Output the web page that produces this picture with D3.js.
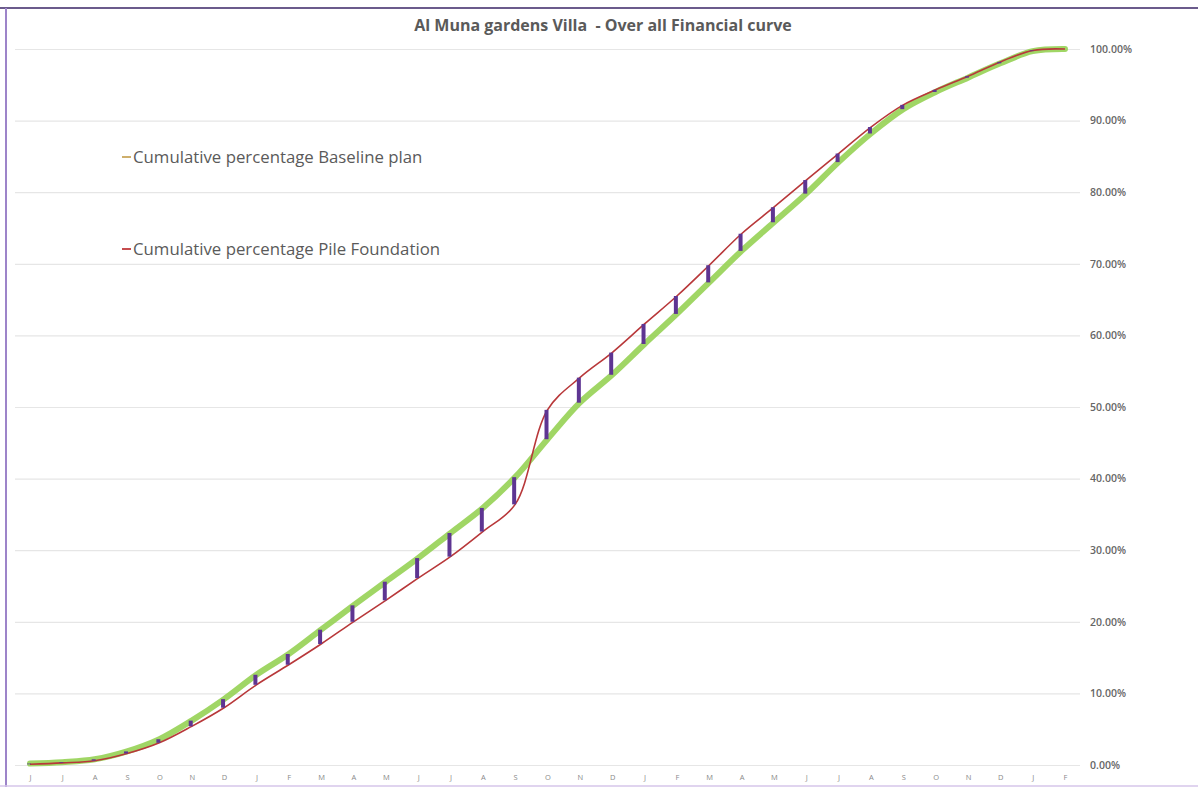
<!DOCTYPE html>
<html>
<head>
<meta charset="utf-8">
<script src="https://cdn.jsdelivr.net/npm/d3@7"></script>
<style>
  body { margin: 0; background: #fff; }
  svg { display: block; }
</style>
</head>
<body>
<div id="chart"></div>
<script>
// month initials along the bottom (Jun .. Feb, three years)
var months = ["J","J","A","S","O","N","D","J","F","M","A","M","J","J","A","S","O",
              "N","D","J","F","M","A","M","J","J","A","S","O","N","D","J","F"];

// cumulative % per month
var baseline = [0.2, 0.4, 0.8, 1.9, 3.6, 6.2, 9.2, 12.6, 15.5, 18.9, 22.3, 25.6, 28.9,
                32.4, 35.9, 40.2, 45.5, 50.6, 54.5, 58.8, 63.0, 67.4, 71.8, 75.8, 79.8,
                84.2, 88.2, 91.6, 94.0, 96.0, 98.0, 99.7, 100];
var pile = [0.1, 0.3, 0.6, 1.6, 3.1, 5.4, 8.0, 11.2, 14.0, 16.9, 20.0, 23.0, 26.1,
            29.1, 32.6, 36.4, 49.6, 54.1, 57.6, 61.6, 65.5, 69.8, 74.2, 77.9, 81.7,
            85.4, 89.1, 92.2, 94.3, 96.2, 98.2, 99.8, 100];

var yTicks = [0, 10, 20, 30, 40, 50, 60, 70, 80, 90, 100];

var width = 1198, height = 787;

var svg = d3.select("#chart").append("svg")
      .attr("width", width)
      .attr("height", height);

// frame
svg.append("line").attr("x1", 0).attr("x2", width).attr("y1", 8).attr("y2", 8)
  .attr("stroke", "#6b5b8c").attr("stroke-width", 2);
svg.append("line").attr("x1", 6).attr("x2", 6).attr("y1", 8).attr("y2", height)
  .attr("stroke", "#9d84c9").attr("stroke-width", 2);
svg.append("line").attr("x1", 0).attr("x2", width).attr("y1", 786).attr("y2", 786)
  .attr("stroke", "#d6c6ea").attr("stroke-width", 1.5);

var idx = d3.range(months.length);

var x = d3.scalePoint()
      .domain(idx)
      .range([30, 1065]);

var y = d3.scaleLinear()
      .domain([0, 100])
      .range([765, 49]);

// gridlines
var grid = svg.append("g")
      .attr("transform", "translate(1080,0)")
      .call(d3.axisLeft(y).tickValues(yTicks).tickSize(1065).tickFormat(""));
grid.select(".domain").remove();
grid.selectAll("line").attr("stroke", "#e6e6e6").attr("stroke-width", 1.2);

// right hand labels
var yAxis = svg.append("g")
      .attr("transform", "translate(1090,0)")
      .call(d3.axisRight(y).tickValues(yTicks).tickSize(0).tickPadding(0)
            .tickFormat(function(d) { return d3.format(".2f")(d) + "%"; }));
yAxis.select(".domain").remove();
yAxis.selectAll("text")
  .attr("fill", "#666")
  .style("font-family", "Open Sans, sans-serif")
  .style("font-size", "10.5px")
  .style("font-weight", "600");

// month labels
var xAxis = svg.append("g")
      .attr("transform", "translate(0,772)")
      .call(d3.axisBottom(x).tickSize(0).tickPadding(3)
            .tickFormat(function(i) { return months[i]; }));
xAxis.select(".domain").remove();
xAxis.selectAll("text")
  .attr("fill", "#8a8a8a")
  .style("font-family", "Open Sans, sans-serif")
  .style("font-size", "7.5px");

var line = d3.line()
      .x(function(d, i) { return x(i); })
      .y(function(d) { return y(d); })
      .curve(d3.curveCatmullRom.alpha(0.5));

// baseline - thick green
svg.append("path")
  .datum(baseline)
  .attr("fill", "none")
  .attr("stroke", "#96d154")
  .attr("stroke-width", 6)
  .attr("stroke-linecap", "round")
  .attr("opacity", 0.9)
  .attr("d", line);

// pile foundation - thin red
svg.append("path")
  .datum(pile)
  .attr("fill", "none")
  .attr("stroke", "#b8383a")
  .attr("stroke-width", 1.6)
  .attr("d", line);

// high-low bars between the two series
svg.selectAll(".hl")
  .data(idx)
  .enter()
  .append("line")
  .attr("class", "hl")
  .attr("x1", function(i) { return x(i) - 1; })
  .attr("x2", function(i) { return x(i) - 1; })
  .attr("y1", function(i) { return y(baseline[i]); })
  .attr("y2", function(i) { return y(pile[i]); })
  .attr("stroke", "#5e3592")
  .attr("stroke-width", 4);

// title
svg.append("text")
  .attr("x", 603)
  .attr("y", 31)
  .attr("text-anchor", "middle")
  .attr("fill", "#5a5a5a")
  .style("font-family", "Open Sans, sans-serif")
  .style("font-size", "16px")
  .style("font-weight", "700")
  .style("white-space", "pre")
  .text("Al Muna gardens Villa  - Over all Financial curve");

// legend
var legend = [
  {label: "Cumulative percentage Baseline plan", color: "#c9a65c", y: 157},
  {label: "Cumulative percentage Pile Foundation", color: "#c0393b", y: 249}
];
var lg = svg.selectAll(".legend")
      .data(legend)
      .enter()
      .append("g")
      .attr("class", "legend")
      .attr("transform", function(d) { return "translate(122," + d.y + ")"; });
lg.append("line")
  .attr("x1", 0).attr("x2", 9)
  .attr("stroke", function(d) { return d.color; })
  .attr("stroke-width", 1.8);
lg.append("text")
  .attr("x", 11)
  .attr("dy", "0.35em")
  .attr("fill", "#5a5a5a")
  .style("font-family", "Open Sans, sans-serif")
  .style("font-size", "16.8px")
  .text(function(d) { return d.label; });
</script>
</body>
</html>
